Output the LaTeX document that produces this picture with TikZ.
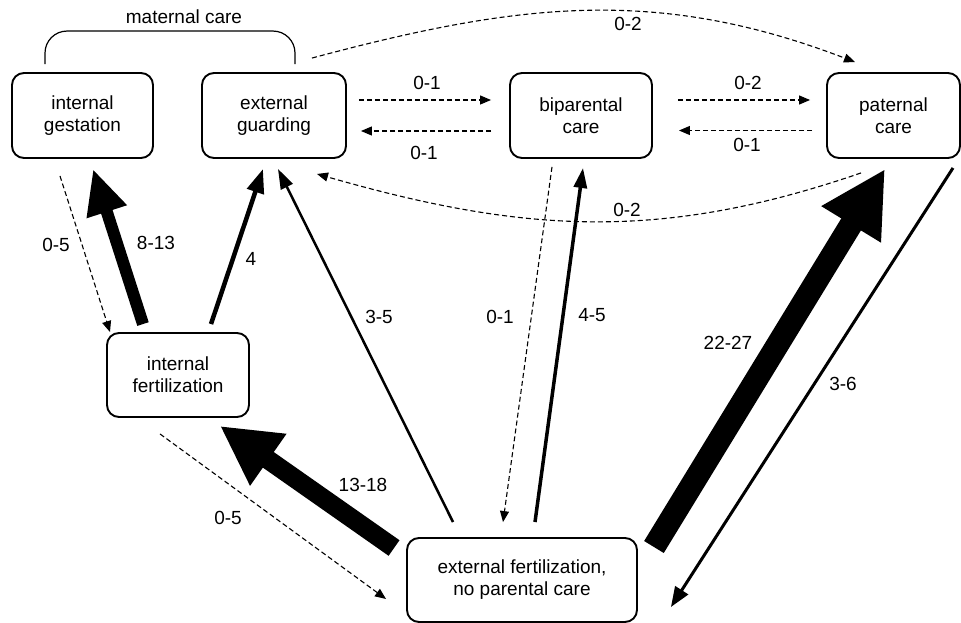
\documentclass[tikz,border=0pt]{standalone}
\usepackage{fontspec}
\setmainfont{Liberation Sans}
\usetikzlibrary{arrows.meta}
\begin{document}
\begin{tikzpicture}[x=1pt,y=1pt,
  every node/.style={font=\fontsize{19}{22}\selectfont},
  box/.style={draw,line width=1.9pt,rounded corners=12pt,align=center,minimum height=85pt,inner sep=0pt},
  lab/.style={inner sep=0pt},
  dasharrow/.style={line width=1.1pt,dash pattern=on 5pt off 3pt,-{Triangle[length=11pt,width=9pt]}}
]
\useasboundingbox (0,0) rectangle (961,-623);
% boxes
\node[box,minimum width=141pt] (igest) at (82.5,-115.5) {internal\\gestation};
\node[box,minimum width=144pt] (eguard) at (274,-115.5) {external\\guarding};
\node[box,minimum width=142pt] (bip) at (581,-115.5) {biparental\\care};
\node[box,minimum width=133pt] (pat) at (893.5,-115.5) {paternal\\care};
\node[box,minimum width=142pt,minimum height=84pt] (ifert) at (178,-375) {internal\\fertilization};
\node[box,minimum width=230pt,minimum height=84pt] (efert) at (522,-580) {external fertilization,\\no parental care};

% maternal care bracket
\draw[line width=1.2pt,rounded corners=22pt] ([xshift=-37.5pt,yshift=8pt]igest.north) -- ++(0,33) -- ++(250,0) -- ++(0,-33);
\node[lab] (lmat) at (184,-17) {maternal care};

% horizontal dashed arrows
\draw[dasharrow] ([xshift=12pt,yshift=15.5pt]eguard.east) -- ([xshift=-18pt,yshift=15.5pt]bip.west);
\draw[dasharrow] ([xshift=-18pt,yshift=-15.5pt]bip.west) -- ([xshift=14pt,yshift=-15.5pt]eguard.east);
\draw[dasharrow] ([xshift=25pt,yshift=15.5pt]bip.east) -- ([xshift=-16pt,yshift=15.5pt]pat.west);
\draw[dasharrow] ([xshift=-14pt,yshift=-15pt]pat.west) -- ([xshift=26pt,yshift=-15pt]bip.east);
\node[lab] (l1) at (427,-83) {0-1};
\node[lab] (l2) at (424,-153) {0-1};
\node[lab] (l3) at (748,-83) {0-2};
\node[lab] (l4) at (747,-145) {0-1};

% curved dashed arrows
\draw[dasharrow] ([xshift=38pt,yshift=14pt]eguard.north) to[out=15,in=159] ([xshift=-38.5pt,yshift=10pt]pat.north);
\node[lab] (l5) at (628,-24) {0-2};
\draw[dasharrow] ([xshift=-32.5pt,yshift=-14pt]pat.south) to[out=199,in=-16] ([xshift=43pt,yshift=-15pt]eguard.south);
\node[lab] (l6) at (627,-210) {0-2};

% left group
\draw[dasharrow] ([xshift=-22.5pt,yshift=-17pt]igest.south) -- ([xshift=-68pt]ifert.north);
\node[lab] (l7) at (56,-245) {0-5};
\draw[line width=12pt,-{Triangle[length=45pt,width=39pt]}] ([xshift=-35pt,yshift=8pt]ifert.north) -- ([xshift=10.5pt,yshift=-10pt]igest.south);
\node[lab] (l8) at (156,-243) {8-13};
\draw[line width=4.5pt,-{Triangle[length=24pt,width=17pt]}] ([xshift=33pt,yshift=8pt]ifert.north) -- ([xshift=-11pt,yshift=-10pt]eguard.south);
\node[lab] (l9) at (251,-259) {4};
\draw[line width=2.5pt,-{Triangle[length=20pt,width=13pt]}] ([xshift=-69pt,yshift=15pt]efert.north) -- ([xshift=4pt,yshift=-10pt]eguard.south);
\node[lab] (l10) at (379,-317) {3-5};
\draw[line width=19pt,-{Triangle[length=59pt,width=59pt]}] ([xshift=-12pt,yshift=32pt]efert.west) -- ([xshift=42pt,yshift=-8pt]ifert.south);
\node[lab] (l11) at (363,-485) {13-18};
\draw[dasharrow] ([xshift=-18pt,yshift=-16pt]ifert.south) -- ([xshift=-20pt,yshift=-19pt]efert.west);
\node[lab] (l12) at (228,-518) {0-5};

% middle group
\draw[dasharrow] ([xshift=-29pt,yshift=-8pt]bip.south) -- ([xshift=-19pt,yshift=15pt]efert.north);
\node[lab] (l13) at (500,-317) {0-1};
\draw[line width=3.5pt,-{Triangle[length=20pt,width=13pt]}] ([xshift=13pt,yshift=15pt]efert.north) -- ([xshift=2pt,yshift=-9pt]bip.south);
\node[lab] (l14) at (592,-315) {4-5};

% right group
\draw[line width=23pt,-{Triangle[length=65pt,width=65pt]}] ([xshift=16pt,yshift=33pt]efert.east) -- ([xshift=-8.5pt,yshift=-10pt]pat.south);
\node[lab] (l15) at (728,-343) {22-27};
\draw[line width=3pt,-{Triangle[length=20pt,width=15pt]}] ([xshift=59.5pt,yshift=-9pt]pat.south) -- ([xshift=33pt,yshift=-27pt]efert.east);
\node[lab] (l16) at (843,-384) {3-6};
\end{tikzpicture}
\end{document}
